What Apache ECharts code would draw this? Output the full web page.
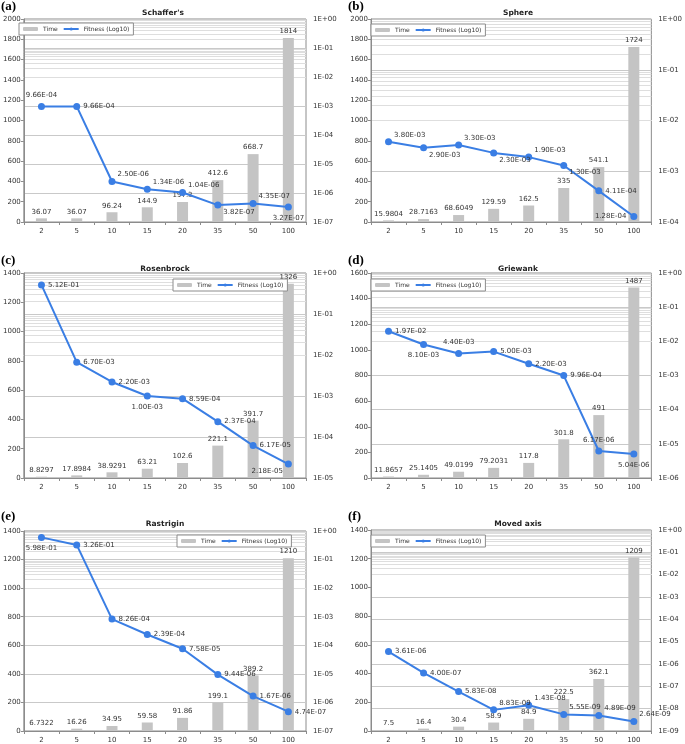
<!DOCTYPE html>
<html>
<head>
<meta charset="utf-8">
<script src="https://cdn.jsdelivr.net/npm/echarts@6/dist/echarts.min.js"></script>
<style>
html,body{margin:0;padding:0;background:#fff;}
#c{width:685px;height:744px;}
</style>
</head>
<body>
<div id="c"></div>
<script>
// ---------------- DATA ----------------
const categories = ['2', '5', '10', '15', '20', '35', '50', '100'];

const titleA = "Schaffer's";
const timeA = [36.07, 36.07, 96.24, 144.9, 197.3, 412.6, 668.7, 1814];
const fitA = [9.66e-4, 9.66e-4, 2.50e-6, 1.34e-6, 1.04e-6, 3.82e-7, 4.35e-7, 3.27e-7];

const titleB = 'Sphere';
const timeB = [15.9804, 28.7163, 68.6049, 129.59, 162.5, 335, 541.1, 1724];
const fitB = [3.80e-3, 2.90e-3, 3.30e-3, 2.30e-3, 1.90e-3, 1.30e-3, 4.11e-4, 1.28e-4];

const titleC = 'Rosenbrock';
const timeC = [8.8297, 17.8984, 38.9291, 63.21, 102.6, 221.1, 391.7, 1326];
const fitC = [5.12e-1, 6.70e-3, 2.20e-3, 1.00e-3, 8.59e-4, 2.37e-4, 6.17e-5, 2.18e-5];

const titleD = 'Griewank';
const timeD = [11.8657, 25.1405, 49.0199, 79.2031, 117.8, 301.8, 491, 1487];
const fitD = [1.97e-2, 8.10e-3, 4.40e-3, 5.00e-3, 2.20e-3, 9.96e-4, 6.17e-6, 5.04e-6];

const titleE = 'Rastrigin';
const timeE = [6.7322, 16.26, 34.95, 59.58, 91.86, 199.1, 389.2, 1210];
const fitE = [5.98e-1, 3.26e-1, 8.26e-4, 2.39e-4, 7.58e-5, 9.44e-6, 1.67e-6, 4.74e-7];

const titleF = 'Moved axis';
const timeF = [7.5, 16.4, 30.4, 58.9, 84.9, 222.5, 362.1, 1209];
const fitF = [3.61e-6, 4.00e-7, 5.83e-8, 8.83e-9, 1.43e-8, 5.55e-9, 4.89e-9, 2.64e-9];

const leftMax = [2000, 2000, 1400, 1600, 1400, 1400];
const rightMinExp = [-7, -4, -5, -6, -7, -9];
const letters = ['(a)', '(b)', '(c)', '(d)', '(e)', '(f)'];
const legendNames = ['Time', 'Fitness (Log10)'];

// ---------------- LAYOUT / STYLE ----------------
const layout = [
  {grid:{left:19,top:19,width:287,height:203}, legend:{left:19,top:23}, title:[163,13], letter:[1,7],
   lp:['t','r','tr','tr','tr','br','tr','b']},
  {grid:{left:371,top:19,width:285,height:203}, legend:{left:371,top:24}, title:[518,13], letter:[348,7],
   lp:['tr','br','tr','br','tr','br','r','l']},
  {grid:{left:19,top:273,width:287,height:205}, legend:{left:173,top:279}, title:[165,269], letter:[1,261],
   lp:['r','r','r','b','r','r','r','bl']},
  {grid:{left:371,top:273,width:285,height:205}, legend:{left:371,top:279}, title:[518,269], letter:[348,261],
   lp:['r','b','t','r','r','r','t','b']},
  {grid:{left:19,top:531,width:287,height:202}, legend:{left:177,top:535}, title:[165,524], letter:[1,517],
   lp:['b','r','r','r','r','r','r','r']},
  {grid:{left:371,top:530,width:285,height:203}, legend:{left:371,top:535}, title:[518,524], letter:[348,517],
   lp:['r','r','r','tr','tr','tr','tr','tr']}
];

const panels = [
  [titleA, timeA, fitA], [titleB, timeB, fitB], [titleC, timeC, fitC],
  [titleD, timeD, fitD], [titleE, timeE, fitE], [titleF, timeF, fitF]
];

const FONT = 'DejaVu Sans';
const TXT = '#333';
const BLUE = '#3a7ee4';
const BAR = '#c4c4c4';

function fmtE(v) {
  const s = v.toExponential(2);
  const parts = s.split('e');
  const n = parseInt(parts[1], 10);
  return parts[0] + 'E' + (n < 0 ? '-' : '+') + String(Math.abs(n)).padStart(2, '0');
}
function fmtDec(v) {
  const n = Math.round(Math.log10(v));
  return '1E' + (n < 0 ? '-' : '+') + String(Math.abs(n)).padStart(2, '0');
}
function labelOpt(code) {
  switch (code) {
    case 't': return {position: 'top', distance: 4};
    case 'b': return {position: 'bottom', distance: 4};
    case 'l': return {position: 'left', distance: 4};
    case 'r': return {position: 'right', distance: 3};
    case 'tr': return {position: 'right', distance: 2, offset: [0, -7]};
    case 'br': return {position: 'right', distance: 2, offset: [0, 7]};
    case 'bl': return {position: 'left', distance: 2, offset: [0, 7]};
  }
  return {position: 'right'};
}

const grids = [], xAxes = [], yAxes = [], series = [], legends = [], graphics = [];

panels.forEach((p, i) => {
  const [title, time, fit] = p;
  const L = layout[i];
  grids.push(Object.assign({show: true, borderColor: '#8c8c8c', borderWidth: 1, backgroundColor: '#fff', containLabel: false}, L.grid));
  xAxes.push({
    type: 'category', gridIndex: i, data: categories, boundaryGap: true,
    axisLine: {show: true, lineStyle: {color: '#8c8c8c'}},
    axisTick: {show: true, interval: 0, length: 3, lineStyle: {color: '#8c8c8c'}},
    axisLabel: {interval: 0, fontSize: 7, fontFamily: FONT, color: TXT, margin: 6},
    splitLine: {show: false}
  });
  yAxes.push({
    type: 'value', gridIndex: i, position: 'left', min: 0, max: leftMax[i], interval: 200,
    axisLine: {show: true, lineStyle: {color: '#8c8c8c'}},
    axisTick: {show: true, length: 3, lineStyle: {color: '#8c8c8c'}},
    axisLabel: {fontSize: 7, fontFamily: FONT, color: TXT, margin: 3, formatter: (v) => String(v)},
    splitLine: {show: false}
  });
  const decades = -rightMinExp[i];
  yAxes.push({
    type: 'log', logBase: 10, gridIndex: i, position: 'right',
    min: Math.pow(10, rightMinExp[i]), max: 1, splitNumber: decades,
    axisLine: {show: false}, axisTick: {show: false},
    axisLabel: {fontSize: 7, fontFamily: FONT, color: TXT, margin: 7, formatter: fmtDec},
    splitLine: {show: true, lineStyle: {color: '#c9c9c9', width: 1}},
    minorSplitLine: {show: false}
  });
  // minor log gridlines (decoration)
  const minor = [];
  for (let e = rightMinExp[i]; e < 0; e++) {
    for (let k = 2; k <= 9; k++) minor.push({yAxis: k * Math.pow(10, e)});
  }
  series.push({
    type: 'line', name: '_grid' + i, xAxisIndex: i, yAxisIndex: 2 * i + 1, data: [],
    silent: true, z: 0,
    markLine: {silent: true, z: 0, symbol: ['none', 'none'], label: {show: false},
      lineStyle: {color: '#dedede', width: 1, type: 'solid'}, emphasis: {disabled: true}, data: minor, animation: false}
  });
  series.push({
    type: 'bar', name: 'Time', xAxisIndex: i, yAxisIndex: 2 * i, data: time,
    barWidth: 11, itemStyle: {color: BAR}, z: 2,
    label: {show: true, position: 'top', distance: 3, fontSize: 7, fontFamily: FONT, color: TXT,
      formatter: (q) => String(q.value)}
  });
  series.push({
    type: 'line', name: 'Fitness (Log10)', xAxisIndex: i, yAxisIndex: 2 * i + 1,
    data: fit.map((v, j) => ({value: v, label: labelOpt(L.lp[j])})),
    symbol: 'circle', symbolSize: 7, z: 3,
    lineStyle: {color: BLUE, width: 2}, itemStyle: {color: BLUE},
    label: {show: true, fontSize: 7, fontFamily: FONT, color: TXT, formatter: (q) => fmtE(q.value)}
  });
  legends.push({
    left: L.legend.left, top: L.legend.top, orient: 'horizontal',
    data: legendNames, backgroundColor: '#fff', borderColor: '#8c8c8c', borderWidth: 1,
    padding: [3, 4], itemGap: 5, itemWidth: 15, itemHeight: 4,
    textStyle: {fontSize: 6, fontFamily: FONT, color: TXT},
    selectedMode: false
  });
  graphics.push({
    type: 'text', x: L.title[0], y: L.title[1],
    style: {text: title, textAlign: 'center', textVerticalAlign: 'middle',
      font: 'bold 7.5px "DejaVu Sans"', fill: '#222'}
  });
  graphics.push({
    type: 'text', x: L.letter[0], y: L.letter[1],
    style: {text: letters[i], textAlign: 'left', textVerticalAlign: 'middle',
      font: 'bold 13px "Liberation Serif"', fill: '#000'}
  });
});

const chart = echarts.init(document.getElementById('c'), null, {renderer: 'canvas'});
chart.setOption({
  animation: false,
  backgroundColor: '#fff',
  grid: grids, xAxis: xAxes, yAxis: yAxes, series: series, legend: legends,
  graphic: graphics
});
</script>
</body>
</html>
